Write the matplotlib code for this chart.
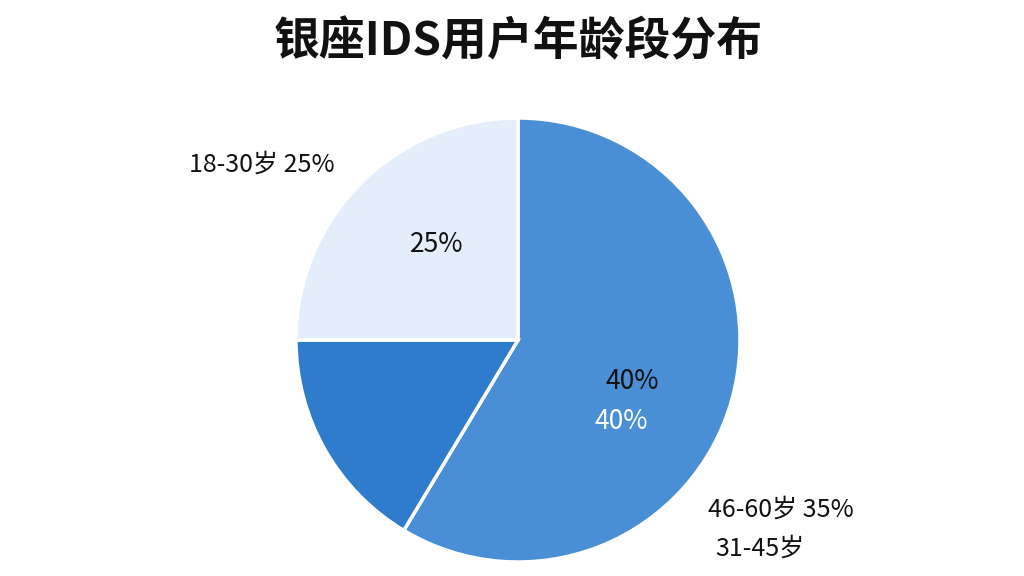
import matplotlib
matplotlib.use("Agg")
import matplotlib.pyplot as plt

plt.rcParams['font.family'] = ['Noto Sans CJK SC', 'DejaVu Sans']

values = [58.6, 16.4, 25.0]
colors = ['#4a8fd6', '#2f7bcc', '#e4eefa']
inner_labels = ['40%', '40%', '25%']
outer_labels = ['46-60岁 35%', '31-45岁', '18-30岁 25%']
title = '银座IDS用户年龄段分布'

fig = plt.figure(figsize=(10.24, 5.76), dpi=100)
ax = fig.add_axes([(518-222)/1024, (576-340-222)/576, 444/1024, 444/576])
ax.pie(values, colors=colors, startangle=90, counterclock=False, radius=1,
       wedgeprops=dict(edgecolor='white', linewidth=2.5))
ax.set_xlim(-1, 1); ax.set_ylim(-1, 1); ax.set_aspect('equal')
ax.axis('off')

kw = dict(ha='center', va='center', fontweight='medium', clip_on=False)
ax.text(0.514, -0.185, inner_labels[0], fontsize=19, color='#111111', **kw)
ax.text(0.464, -0.365, inner_labels[1], fontsize=19, color='white', **kw)
ax.text(-0.365, 0.432, inner_labels[2], fontsize=19, color='#111111', **kw)
ax.text(1.185, -0.766, outer_labels[0], fontsize=18, color='#111111', **kw)
ax.text(1.09, -0.94, outer_labels[1], fontsize=18, color='#111111', **kw)
ax.text(-1.153, 0.788, outer_labels[2], fontsize=18, color='#111111', **kw)

fig.text(0.506, 1 - 42/576, title, fontsize=33, fontweight='bold', ha='center', va='center', color='#111111')
fig.savefig('out.png', dpi=100, facecolor='white')
